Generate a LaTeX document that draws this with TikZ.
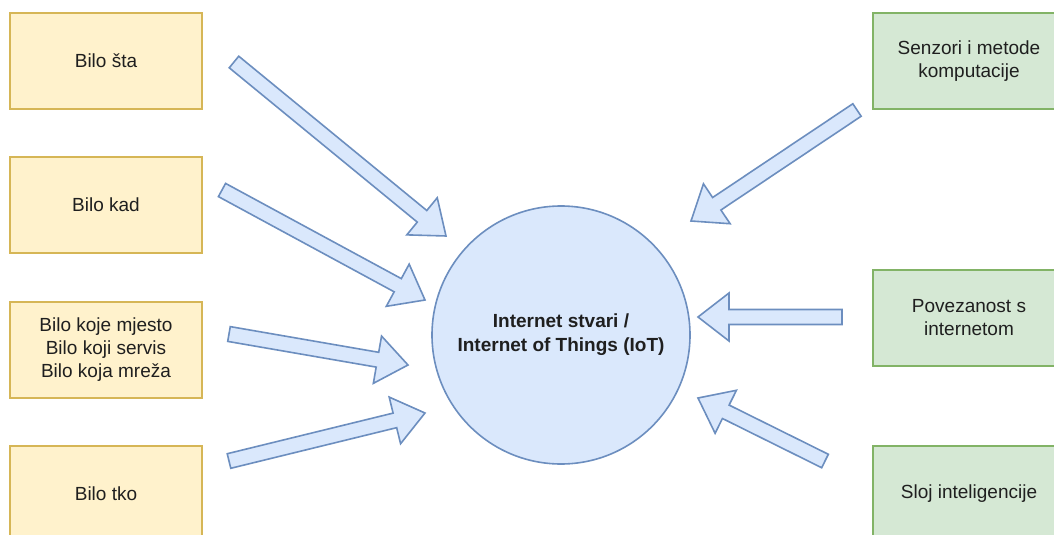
\documentclass[tikz,border=0pt]{standalone}
\usepackage{fontspec}
\setmainfont{Liberation Sans}
\usetikzlibrary{calc}
\definecolor{yfill}{HTML}{FFF2CC}
\definecolor{ydraw}{HTML}{D6B656}
\definecolor{gfill}{HTML}{D5E8D4}
\definecolor{gdraw}{HTML}{82B366}
\definecolor{bfill}{HTML}{DAE8FC}
\definecolor{bdraw}{HTML}{6C8EBF}
\definecolor{txt}{HTML}{1F1F1F}
\tikzset{
  base/.style={line width=1.6pt, text=txt, align=center, inner sep=0pt,
    font=\fontsize{19}{23}\selectfont},
  ybox/.style={base, rectangle, draw=ydraw, fill=yfill, minimum width=192pt, minimum height=96pt},
  gbox/.style={base, rectangle, draw=gdraw, fill=gfill, minimum width=192pt, minimum height=96pt},
  hub/.style={base, circle, draw=bdraw, fill=bfill, minimum size=258pt,
    font=\fontsize{19}{24}\selectfont\bfseries},
  fatarr/.style={line width=1.6pt, draw=bdraw, fill=bfill, line join=miter}
}
\newcommand\fatarrow[2]{%
  \path let \p1=($(#2)-(#1)$), \n1={atan2(\y1,\x1)}, \n2={veclen(\x1,\y1)} in
    \pgfextra{\pgfmathsetmacro\faangl{\n1}\pgfmathsetmacro\falenl{\n2}%
      \global\let\faang\faangl \global\let\falen\falenl};
  \draw[fatarr, shift={(#1)}, rotate=\faang]
    (0,-7.5) -- (\falen-31,-7.5) -- (\falen-31,-24) -- (\falen,0)
    -- (\falen-31,24) -- (\falen-31,7.5) -- (0,7.5) -- cycle;
}
\begin{document}
\begin{tikzpicture}[x=1pt,y=-1pt]
\path[use as bounding box, clip] (0,0) rectangle (1054,535);
\fill[white] (0,0) rectangle (1054,535);

\node[ybox] (y1) at (106,61) {Bilo šta};
\node[ybox] (y2) at (106,205) {Bilo kad};
\node[ybox] (y3) at (106,350) {Bilo koje mjesto\\Bilo koji servis\\Bilo koja mreža};
\node[ybox] (y4) at (106,494) {Bilo tko};

\node[gbox] (g1) at (969,61) {Senzori i metode\\komputacije};
\node[gbox] (g2) at (969,318) {Povezanost s\\internetom};
\node[gbox] (g3) at (969,494) {Sloj inteligencije};

\node[hub] (iot) at (561,335) {Internet stvari /\\Internet of Things (IoT)};

\coordinate (a1s) at (234,62);  \coordinate (a1e) at (446,236);
\coordinate (a2s) at (222,190); \coordinate (a2e) at (425,300);
\coordinate (a3s) at (229,334); \coordinate (a3e) at (408,365);
\coordinate (a4s) at (229,461); \coordinate (a4e) at (425,413);
\coordinate (a5s) at (857,110); \coordinate (a5e) at (691,221);
\coordinate (a6s) at (842,317); \coordinate (a6e) at (698,317);
\coordinate (a7s) at (825,461); \coordinate (a7e) at (698,398);

\fatarrow{a1s}{a1e}
\fatarrow{a2s}{a2e}
\fatarrow{a3s}{a3e}
\fatarrow{a4s}{a4e}
\fatarrow{a5s}{a5e}
\fatarrow{a6s}{a6e}
\fatarrow{a7s}{a7e}
\end{tikzpicture}
\end{document}
